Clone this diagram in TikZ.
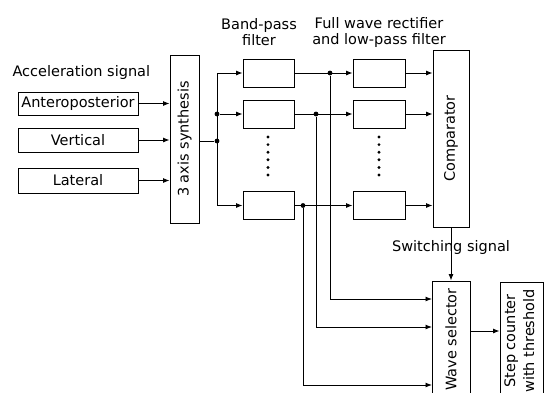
\documentclass[tikz,border=0pt]{standalone}
\usepackage{fontspec}
\setmainfont{DejaVu Sans}
\usepackage{graphicx}
\usetikzlibrary{arrows.meta,positioning}

\begin{document}
\begin{tikzpicture}[x=1pt, y=-1pt, font=\fontsize{14.5}{16}\selectfont, block/.style={draw, line width=0.9pt, inner sep=0pt}, arrow/.style={-{Latex[length=6.5pt,width=5pt]}, line width=0.9pt}, dot/.style={circle, fill, inner sep=1.7pt}]
\useasboundingbox (0,0) rectangle (544,392);
% inputs
\node[anchor=west] (acc) at (9,72) {Acceleration signal};
\node[block, minimum width=120pt, minimum height=23pt] (ap) at (78,103.5) {Anteroposterior};
\node[block, minimum width=120pt, minimum height=24pt] (vt) at (78,140) {Vertical};
\node[block, minimum width=120pt, minimum height=25pt] (lt) at (78,180.5) {Lateral};
\node[block, minimum width=29pt, minimum height=168pt] (syn) at (184.5,139) {\rotatebox{90}{3 axis synthesis}};
\draw[arrow] (ap) -- (ap -| syn.west);
\draw[arrow] (vt) -- (vt -| syn.west);
\draw[arrow] (lt) -- (lt -| syn.west);
% filters
\node (bphead) at (259,32) [align=center] {Band-pass\\filter};
\node (fwhead) at (379,32) [align=center] {Full wave rectifier\\and low-pass filter};
\node[block, minimum width=51pt, minimum height=28pt] (bp1) at (268.5,73) {};
\node[block, minimum width=51pt, minimum height=28pt] (bp2) at (268.5,114) {};
\node[block, minimum width=51pt, minimum height=28pt] (bp3) at (268.5,205.5) {};
\node[block, minimum width=52pt, minimum height=28pt] (fw1) at (379,73) {};
\node[block, minimum width=52pt, minimum height=28pt] (fw2) at (379,114) {};
\node[block, minimum width=52pt, minimum height=28pt] (fw3) at (379,205.5) {};
\foreach \i in {0,...,5} {
  \fill (268,137+7.6*\i) circle (1.6pt);
  \fill (379,137+7.6*\i) circle (1.6pt);
}
\node[block, minimum width=36pt, minimum height=177pt] (cmp) at (451,138.5) {\rotatebox{90}{Comparator}};
% synthesis to band-pass
\node[dot] (j0) at (217,141) {};
\node[dot] (j2) at (217,114) {};
\draw[line width=0.9pt] (syn.east |- j0) -- (j0);
\draw[line width=0.9pt] (j0 |- bp1) -- (j0 |- bp3);
\draw[arrow] (j0 |- bp1) -- (bp1);
\draw[arrow] (j2) -- (bp2);
\draw[arrow] (j0 |- bp3) -- (bp3);
% band-pass to rectifier
\node[dot] (d1) at (330,73) {};
\node[dot] (d2) at (316,114) {};
\node[dot] (d3) at (303,205.5) {};
\draw[arrow] (bp1) -- (fw1);
\draw[arrow] (bp2) -- (fw2);
\draw[arrow] (bp3) -- (fw3);
\draw[arrow] (fw1) -- (fw1 -| cmp.west);
\draw[arrow] (fw2) -- (fw2 -| cmp.west);
\draw[arrow] (fw3) -- (fw3 -| cmp.west);
% selector and counter
\node[block, minimum width=38pt, minimum height=117pt] (sel) at (451,339.5) {\rotatebox{90}{Wave selector}};
\node[block, minimum width=43pt, minimum height=118pt] (cnt) at (521.5,341) {\rotatebox{90}{\begin{tabular}{@{}c@{}}Step counter\\[3pt]with threshold\end{tabular}}};
\coordinate (s1) at (432,299);
\coordinate (s2) at (432,327);
\coordinate (s3) at (432,385);
\draw[arrow] (d1) |- (s1);
\draw[arrow] (d2) |- (s2);
\draw[arrow] (d3) |- (s3);
\draw[arrow] (cmp) -- node[pos=0.37] (sw) {Switching signal} (sel);
\coordinate (o1) at (470,331);
\draw[arrow] (o1) -- (o1 -| cnt.west);
\end{tikzpicture}
\end{document}
